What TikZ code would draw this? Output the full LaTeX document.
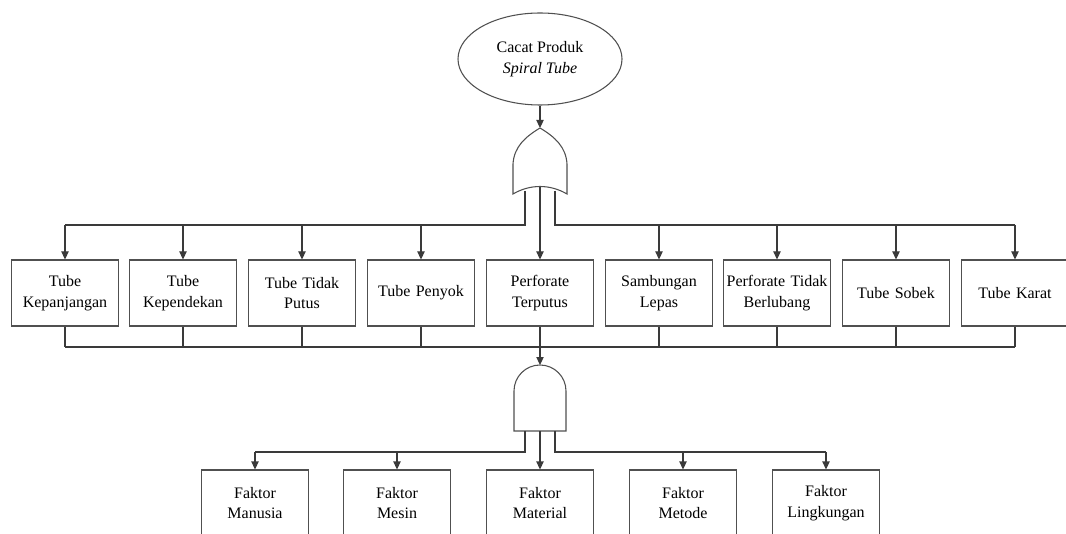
\documentclass[tikz,border=0pt]{standalone}
\usepackage{fontspec}
\setmainfont{Liberation Serif}
\usetikzlibrary{arrows.meta,shapes.geometric}
\definecolor{linegray}{HTML}{3A3A3A}
\definecolor{boxgray}{HTML}{505050}
\begin{document}
\begin{tikzpicture}[x=0.75pt,y=-0.75pt,
  font=\rmfamily\fontsize{12}{15.5}\selectfont,
  conn/.style={draw=linegray,line width=0.8pt},
  arr/.style={conn,-{Triangle[length=6pt,width=5.5pt]}},
  eventbox/.style={draw=boxgray,line width=0.8pt,fill=white,minimum width=80.25pt,
    minimum height=49.5pt,text width=78pt,align=center,inner sep=1pt},
  gate/.style={draw=boxgray,line width=0.8pt,fill=white}]
\useasboundingbox (0,0) rectangle (1066,534);
\begin{scope}
\clip (0,0) rectangle (1066,534);

% top event
\node[ellipse,draw=boxgray,line width=0.8pt,minimum width=123pt,minimum height=69pt,
  align=center,inner sep=0pt] (top) at (540,59) {Cacat Produk\\\textit{Spiral Tube}};

% OR gate
\path[gate] (540,128) .. controls (525,137) and (514,147) .. (513,164) -- (513,194)
  .. controls (530,184) and (550,184) .. (567,194) -- (567,164)
  .. controls (566,147) and (555,137) .. (540,128);
\coordinate (ortip) at (540,128);
\coordinate (orL) at (525,191);
\coordinate (orC) at (540,187);
\coordinate (orR) at (555,191);
\draw[arr] (top.south) -- (ortip);

% intermediate events
\foreach \i/\x/\t in {1/65/{Tube\\Kepanjangan},2/183/{Tube\\Kependekan},
  3/302/{Tube Tidak\\Putus},4/421/{Tube Penyok},5/540/{Perforate\\Terputus},
  6/659/{Sambungan\\Lepas},7/777/{Perforate Tidak\\Berlubang},8/896/{Tube Sobek},
  9/1015/{Tube Karat}}{
  \node[eventbox] (e\i) at (\x,293) {\t};
}
\coordinate (busL) at (e1.north |- 0,225);
\coordinate (busR) at (e9.north |- 0,225);
\draw[conn] (orL) -- (orL |- busL) -- (busL);
\draw[conn] (orR) -- (orR |- busR) -- (busR);
\draw[arr] (orC) -- (e5.north);
\foreach \i in {1,2,3,4,6,7,8,9}{
  \draw[arr] (e\i.north |- busL) -- (e\i.north);
}

% collector under the events
\coordinate (colL) at (e1.south |- 0,347);
\draw[conn] (colL) -- (e9.south |- colL);
\foreach \i in {1,2,3,4,5,6,7,8,9}{
  \draw[conn] (e\i.south) -- (e\i.south |- colL);
}

% AND gate
\path[gate] (514,431) -- (514,391) arc[start angle=180,end angle=360,radius=26] -- (566,431) -- cycle;
\coordinate (andtip) at (540,365);
\coordinate (andL) at (525,431);
\coordinate (andC) at (540,431);
\coordinate (andR) at (555,431);
\draw[arr] (e5.south |- colL) -- (andtip);

% basic factors
\foreach \i/\x/\t in {1/255/{Faktor\\Manusia},2/397/{Faktor\\Mesin},3/540/{Faktor\\Material},
  4/683/{Faktor\\Metode},5/826/{Faktor\\Lingkungan}}{
  \node[eventbox] (f\i) at (\x,503) {\t};
}
\coordinate (lowL) at (f1.north |- 0,452);
\coordinate (lowR) at (f5.north |- 0,452);
\draw[conn] (andL) -- (andL |- lowL) -- (lowL);
\draw[conn] (andR) -- (andR |- lowR) -- (lowR);
\draw[arr] (andC) -- (f3.north);
\foreach \i in {1,2,4,5}{
  \draw[arr] (f\i.north |- lowL) -- (f\i.north);
}
\end{scope}
\end{tikzpicture}
\end{document}
